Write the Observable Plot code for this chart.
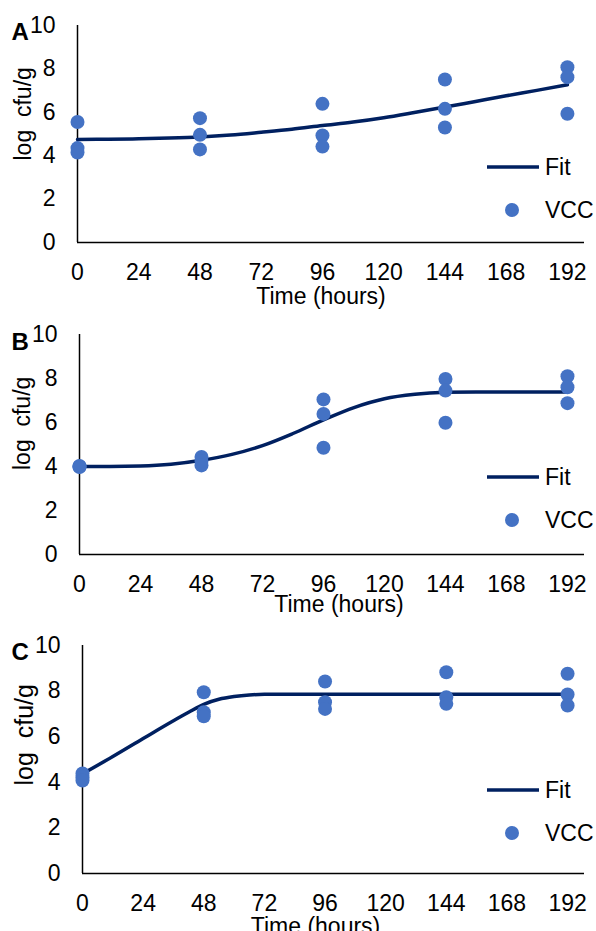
<!DOCTYPE html>
<html>
<head>
<meta charset="utf-8">
<script src="https://cdn.jsdelivr.net/npm/d3@7"></script>
<script src="https://cdn.jsdelivr.net/npm/@observablehq/plot@0.6"></script>
<style>
  html, body { margin: 0; padding: 0; background: #fff; }
  #chart { width: 596px; }
  .panel { position: relative; width: 596px; }
  .panel svg.legend { position: absolute; left: 0; top: 0; pointer-events: none; }
</style>
</head>
<body>
<div id="chart"></div>
<script>
// ---- data ----
const xTicks = [0, 24, 48, 72, 96, 120, 144, 168, 192];
const yTicks = [0, 2, 4, 6, 8, 10];
const panelLabels = ["A", "B", "C"];
const xLabel = "Time (hours)";
const yLabel = "log\u00a0 cfu/g";
const seriesNames = ["Fit", "VCC"];

const fitTime = [0, 12, 24, 36, 48, 60, 72, 84, 96, 108, 120, 132, 144, 156, 168, 180, 192];
const fitA = [4.75, 4.76, 4.78, 4.81, 4.86, 4.95, 5.08, 5.22, 5.39, 5.55, 5.75, 5.99, 6.24, 6.50, 6.76, 7.01, 7.27];
const fitB = [4.00, 4.00, 4.02, 4.10, 4.28, 4.55, 4.95, 5.50, 6.12, 6.68, 7.08, 7.28, 7.37, 7.39, 7.39, 7.39, 7.39];
const fitTimeC = [0, 12, 24, 36, 42, 48, 54, 60, 66, 72, 84, 96, 108, 120, 132, 144, 156, 168, 180, 192];
const fitC = [4.37, 5.13, 5.92, 6.70, 7.07, 7.42, 7.64, 7.76, 7.83, 7.86, 7.86, 7.86, 7.86, 7.86, 7.86, 7.86, 7.86, 7.86, 7.86, 7.86];

const obsTime = [0, 0, 0, 48, 48, 48, 96, 96, 96, 144, 144, 144, 192, 192, 192];
const vccA = [5.55, 4.35, 4.15, 5.73, 4.96, 4.29, 6.39, 4.93, 4.42, 7.51, 6.16, 5.30, 8.08, 7.62, 5.93];
const vccB = [4.02, 4.00, 3.98, 4.43, 4.25, 4.05, 7.05, 6.39, 4.85, 7.98, 7.45, 5.99, 8.10, 7.60, 6.88];
const vccC = [4.39, 4.22, 4.08, 7.95, 7.07, 6.90, 8.42, 7.51, 7.22, 8.83, 7.73, 7.44, 8.76, 7.85, 7.37];

// ---- layout / style ----
const FONT = "'Liberation Sans', Arial, sans-serif";
const FIT_COLOR = "#002060";
const DOT_COLOR = "#4472C4";

const panels = [
  {label: panelLabels[0], fitT: fitTime, fit: fitA, vcc: vccA, h: 310, mL: 77, mT: 25, mB: 68,
   tDy: 45, tDx: -10, yDx: 23, yDy: 26.5, lDy: -2, legY1: 167, legY2: 210, yFont: 23},
  {label: panelLabels[1], fitT: fitTime, fit: fitB, vcc: vccB, h: 310, mL: 79, mT: 24, mB: 66,
   tDy: 41, tDx: 7, yDx: 22, yDy: 25.5, lDy: -1, legY1: 167, legY2: 210, yFont: 23},
  {label: panelLabels[2], fitT: fitTimeC, fit: fitC, vcc: vccC, h: 311, mL: 82, mT: 25, mB: 58,
   tDy: 44, tDx: -18, yDx: 24, yDy: 26, lDy: -2, legY1: 170, legY2: 213, yFont: 25}
];

const chart = document.getElementById("chart");

for (const p of panels) {
  const fitData = p.fitT.map((t, i) => ({t, v: p.fit[i]}));
  const obsData = obsTime.map((t, i) => ({t, v: p.vcc[i]}));

  const plot = Plot.plot({
    width: 596,
    height: p.h,
    marginLeft: p.mL,
    marginRight: 12,
    marginTop: p.mT,
    marginBottom: p.mB,
    style: {fontFamily: FONT, fontSize: "23px", background: "#fff", color: "#000", overflow: "visible"},
    x: {domain: [0, 198.7], ticks: xTicks, tickSize: 0, tickPadding: 21, label: null},
    y: {domain: [0, 10], ticks: yTicks, tickSize: 0, tickPadding: 22, label: null},
    marks: [
      Plot.ruleX([0], {stroke: "#000", strokeWidth: 1.5}),
      Plot.ruleY([0], {stroke: "#000", strokeWidth: 1.5}),
      Plot.line(fitData, {x: "t", y: "v", stroke: FIT_COLOR, strokeWidth: 3.5, curve: "monotone-x"}),
      Plot.dot(obsData, {x: "t", y: "v", r: 7, fill: DOT_COLOR, stroke: "none"}),
      Plot.text([xLabel], {frameAnchor: "bottom", dy: p.tDy, dx: p.tDx, lineAnchor: "top", fontSize: 23, fill: "#000"}),
      Plot.text([yLabel], {frameAnchor: "left", dx: p.yDx - p.mL, dy: p.yDy, rotate: -90, fontSize: p.yFont, fill: "#000"}),
      Plot.text([p.label], {frameAnchor: "top-left", dx: 11 - p.mL, dy: p.lDy - 1, textAnchor: "start", lineAnchor: "top", fontSize: 24, fontWeight: "bold", fill: "#000"})
    ]
  });

  const wrap = document.createElement("div");
  wrap.className = "panel";
  wrap.style.height = p.h + "px";
  wrap.appendChild(plot);

  // legend overlay
  const leg = d3.create("svg").attr("class", "legend").attr("width", 596).attr("height", p.h)
    .style("font-family", FONT).style("font-size", "23px");
  leg.append("line").attr("x1", 487).attr("x2", 539).attr("y1", p.legY1).attr("y2", p.legY1)
    .attr("stroke", FIT_COLOR).attr("stroke-width", 3.5);
  leg.append("text").attr("x", 545).attr("y", p.legY1).attr("dy", "0.35em").attr("fill", "#000").text(seriesNames[0]);
  leg.append("circle").attr("cx", 512).attr("cy", p.legY2).attr("r", 7).attr("fill", DOT_COLOR);
  leg.append("text").attr("x", 545).attr("y", p.legY2).attr("dy", "0.35em").attr("fill", "#000").text(seriesNames[1]);
  wrap.appendChild(leg.node());

  chart.appendChild(wrap);
}
</script>
</body>
</html>
